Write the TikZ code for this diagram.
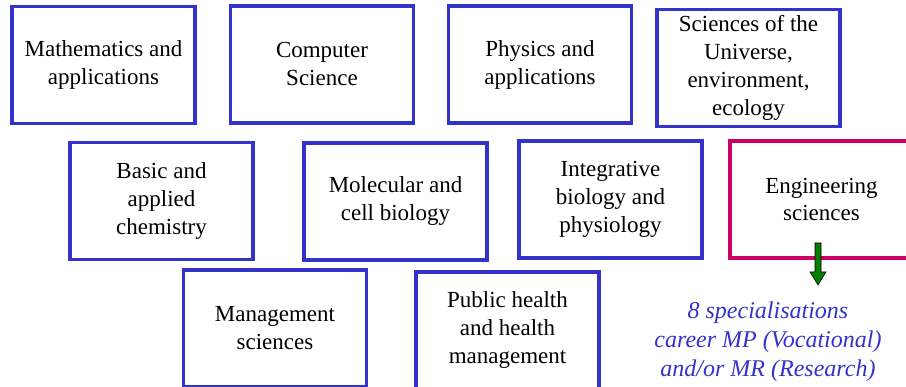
\documentclass[tikz,border=0pt]{standalone}
\usepackage{fontspec}
\setmainfont{Liberation Serif}
\usetikzlibrary{calc}
\definecolor{boxblue}{RGB}{51,51,204}
\definecolor{boxpink}{RGB}{204,0,102}
\definecolor{arrgreen}{RGB}{0,128,0}
\begin{document}
\begin{tikzpicture}[x=1pt, y=1pt, font=\fontsize{23}{28}\selectfont]
    \tikzset{
      field/.style={draw=boxblue, line width=3.2pt, minimum width=183pt,
                    minimum height=117pt, inner sep=0pt, align=center},
      hilite/.style={field, draw=boxpink},
      blockarr/.style={draw=black, line width=0.6pt, fill=arrgreen},
    }
    \useasboundingbox (0,0) rectangle (906,-387);

    \node[field] (math)  at (103.5,-65.0) {Mathematics and\\applications};
    \node[field] (cs)    at (322.0,-64.5) {Computer\\Science};
    \node[field] (phys)  at (540.0,-64.5) {Physics and\\applications};
    \node[field] (univ)  at (748.5,-68.0) {Sciences of the\\Universe,\\environment,\\ecology};

    \node[field] (chem)  at (161.5,-201.0) {Basic and\\applied\\chemistry};
    \node[field] (mol)   at (395.5,-201.5) {Molecular and\\cell biology};
    \node[field] (integ) at (610.5,-199.5) {Integrative\\biology and\\physiology};
    \node[hilite] (eng)  at (821.5,-199.5) {Engineering\\sciences};

    \node[field] (mgmt)   at (275.0,-328.5) {Management\\sciences};
    \node[field] (health) at (507.5,-330.5) {Public health\\and health\\management};

    \node[align=center, text=boxblue, font=\fontsize{24}{29}\selectfont\itshape]
      (spec) at (768,-342) {8 specialisations\\career MP (Vocational)\\and/or MR (Research)};

    % block arrow from the engineering box down to the specialisations
    \coordinate (atop) at (818,-243);
    \coordinate (atip) at (818,-285);
    \draw[blockarr] ($(atop)+(-3,0)$) -- ($(atip)+(-3,13)$) -- ($(atip)+(-8,13)$)
      -- (atip) -- ($(atip)+(8,13)$) -- ($(atip)+(3,13)$) -- ($(atop)+(3,0)$) -- cycle;
\end{tikzpicture}
\end{document}
